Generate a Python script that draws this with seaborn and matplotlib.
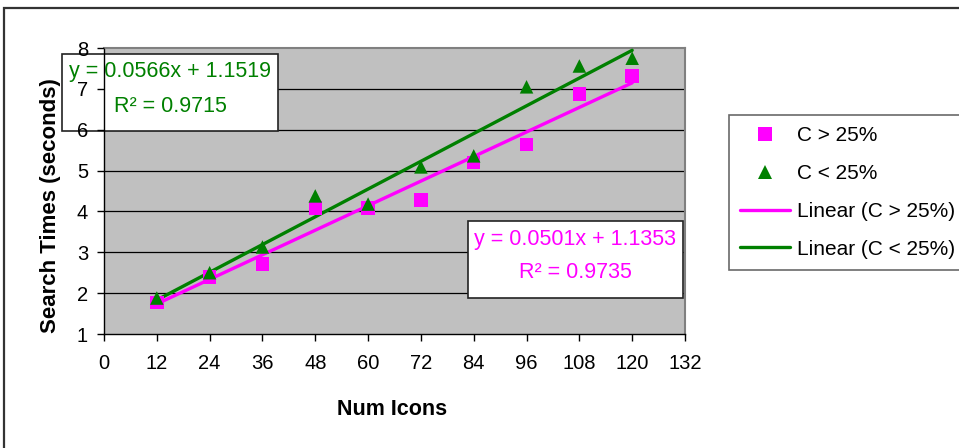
import matplotlib
matplotlib.use("Agg")
import matplotlib.pyplot as plt
from matplotlib.patches import Rectangle
from matplotlib.lines import Line2D
import numpy as np
import pandas as pd
import seaborn as sns

# Mean search times per icon count
num_icons = [12, 24, 36, 48, 60, 72, 84, 96, 108, 120]
times_high = [1.77, 2.40, 2.71, 4.08, 4.08, 4.28, 5.20, 5.64, 6.87, 7.31]   # C > 25%
times_low = [1.88, 2.50, 3.13, 4.38, 4.18, 5.09, 5.36, 7.05, 7.56, 7.75]    # C < 25%

groups = ["C > 25%", "C < 25%"]
slopes = [0.0501, 0.0566]
intercepts = [1.1353, 1.1519]
r_squared = [0.9735, 0.9715]

x_ticks = list(range(0, 133, 12))
y_ticks = list(range(1, 9))

colors = {"C > 25%": "#FF00FF", "C < 25%": "#008000"}
markers = {"C > 25%": "s", "C < 25%": "^"}

sns.set_style("white")
plt.rcParams["font.family"] = ["Liberation Sans", "DejaVu Sans"]
plt.rcParams.update({
    "text.color": "black",
    "axes.labelcolor": "black",
    "xtick.color": "black",
    "ytick.color": "black",
})

points = pd.DataFrame({
    "icons": num_icons * 2,
    "time": times_high + times_low,
    "group": [groups[0]] * len(num_icons) + [groups[1]] * len(num_icons),
})

fit_rows = []
for g, m, b in zip(groups, slopes, intercepts):
    for xv in (min(num_icons), max(num_icons)):
        fit_rows.append({"icons": xv, "time": m * xv + b, "group": g})
fits = pd.DataFrame(fit_rows)

W, H = 959, 448
fig = plt.figure(figsize=(W / 100, H / 100), dpi=100)
ax = fig.add_axes([104 / W, 1 - 334 / H, 581 / W, 286 / H])
ax.set_facecolor("#C0C0C0")

# horizontal gridlines, kept underneath everything else in the plot area
for yv in y_ticks[1:-1]:
    ax.axhline(yv, color="black", linewidth=0.9, zorder=1)

# trend lines from the fitted equations
sns.lineplot(data=fits, x="icons", y="time", hue="group", palette=colors,
             linewidth=2.4, legend=False, ax=ax, zorder=3)
sns.scatterplot(data=points, x="icons", y="time", hue="group", style="group",
                markers=markers, palette=colors, s=95, linewidth=0,
                legend=False, ax=ax, zorder=4)

ax.set_xlim(0, 132)
ax.set_ylim(1, 8)
ax.set_xticks(x_ticks)
ax.set_yticks(y_ticks)
ax.grid(False)
ax.set_axisbelow(False)
ax.tick_params(axis="both", which="both", direction="out", length=5,
               width=1, color="black", labelcolor="black", labelsize=14.5,
               left=True, bottom=True)
ax.tick_params(axis="y", pad=6.5)
ax.tick_params(axis="x", pad=9.5)
for side in ("top", "right"):
    ax.spines[side].set_color("#808080")
    ax.spines[side].set_linewidth(1.5)
for side in ("left", "bottom"):
    ax.spines[side].set_color("black")
    ax.spines[side].set_linewidth(1.0)

ax.set_xlabel("Num Icons", fontsize=15.5, fontweight="bold")
ax.set_ylabel("Search Times (seconds)", fontsize=16, fontweight="bold")
ax.xaxis.set_label_coords(0.4966, -0.228)
ax.yaxis.set_label_coords(-0.074, 0.45)

# equation boxes (kept below the tick labels)
boxes = [
    # group index, left, top, right, bottom in pixels
    (0, 468, 221, 683, 298),
    (1, 62, 54, 278, 131),
]
for gi, l, t, r, b in boxes:
    rect = Rectangle((l / W, 1 - b / H), (r - l) / W, (b - t) / H,
                     transform=fig.transFigure, facecolor="white",
                     edgecolor="#222222", linewidth=1.2, clip_on=False,
                     zorder=2.1)
    ax.add_patch(rect)
    cx = (l + r) / 2 / W
    col = colors[groups[gi]]
    ax.text(cx, 1 - (t + 18) / H,
            f"y = {slopes[gi]:.4f}x + {intercepts[gi]:.4f}",
            transform=fig.transFigure, ha="center", va="center",
            fontsize=15.5, color=col, clip_on=False, zorder=2.2)
    ax.text(cx, 1 - (t + 52) / H, f"R² = {r_squared[gi]:.4f}",
            transform=fig.transFigure, ha="center", va="center",
            fontsize=15.5, color=col, clip_on=False, zorder=2.2)

handles = [
    Line2D([], [], linestyle="none", marker="s", markersize=9.5,
           markerfacecolor=colors[groups[0]], markeredgewidth=0),
    Line2D([], [], linestyle="none", marker="^", markersize=10.5,
           markerfacecolor=colors[groups[1]], markeredgewidth=0),
    Line2D([], [], color=colors[groups[0]], linewidth=2.4),
    Line2D([], [], color=colors[groups[1]], linewidth=2.4),
]
labels = groups + [f"Linear ({g})" for g in groups]
leg = fig.legend(handles, labels, loc="upper left",
                 bbox_to_anchor=(729 / W, 1 - 115 / H),
                 bbox_transform=fig.transFigure, fontsize=15,
                 frameon=True, fancybox=False, edgecolor="#444444",
                 handlelength=2.4, handletextpad=0.3, labelspacing=0.9,
                 borderpad=0.55, borderaxespad=0)
leg.get_frame().set_linewidth(1.2)

# outer chart frame
fig.add_artist(Rectangle((3.5 / W, -0.2), 1.2, 1.2 - 8.5 / H,
                         transform=fig.transFigure, facecolor="none",
                         edgecolor="#333333", linewidth=1.6))

fig.savefig("out.png", dpi=100)
